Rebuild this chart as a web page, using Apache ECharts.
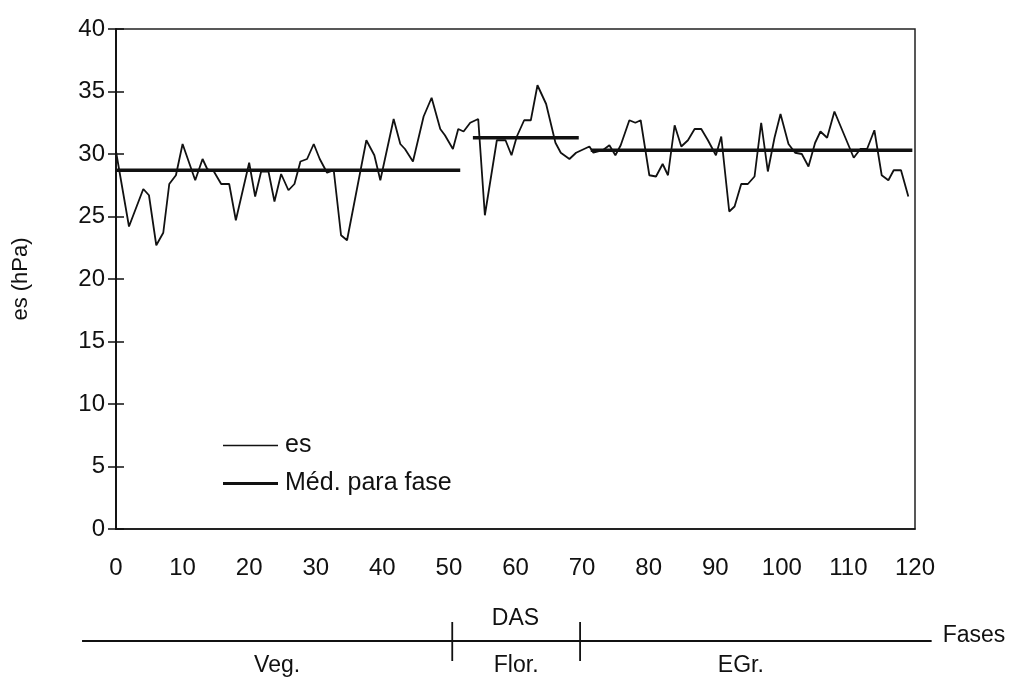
<!DOCTYPE html>
<html>
<head>
<meta charset="utf-8">
<script src="https://cdn.jsdelivr.net/npm/echarts@6/dist/echarts.min.js"></script>
<style>
html,body{margin:0;padding:0;background:#fff;}
#chart{width:1028px;height:686px;}
</style>
</head>
<body>
<div id="chart"></div>
<script>
// ---- data ----
const days = [0,1.95,4.1,4.95,6.05,7.1,8,9,10,11.9,13,13.7,14.7,15.8,17,18,20,20.9,21.8,22.9,23.8,24.8,25.9,26.8,27.7,28.7,29.7,30.6,31.7,32.7,33.8,34.7,37.6,38.8,39.7,41.7,42.7,43.4,44.6,46.2,47.4,48.7,49.4,50.6,51.4,52.2,53.2,54.4,55.4,57.2,58.5,59.4,60.2,61.3,62.3,63.3,64.6,66,66.8,68.1,69.1,70.3,71.1,71.7,73.1,74.1,75,75.8,77.1,78,78.8,80.1,81.1,82.1,82.9,83.9,84.9,85.9,86.9,87.9,88.9,90.1,90.9,92.1,92.9,93.9,94.9,95.9,96.9,97.9,98.9,99.8,101,102,103,104,105,105.8,106.8,107.9,110.8,111.8,112.8,113.9,115,116,116.8,117.9,119];
const es = [30.2,24.2,27.2,26.7,22.7,23.7,27.6,28.3,30.8,27.9,29.6,28.8,28.6,27.6,27.6,24.7,29.3,26.6,28.6,28.6,26.2,28.4,27.1,27.6,29.4,29.6,30.8,29.6,28.5,28.7,23.5,23.1,31.1,29.9,27.9,32.8,30.8,30.4,29.4,33.0,34.5,32.0,31.5,30.4,32.0,31.8,32.5,32.8,25.1,31.1,31.1,29.9,31.4,32.7,32.7,35.5,34.0,30.9,30.1,29.6,30.1,30.4,30.6,30.1,30.3,30.7,29.9,30.7,32.7,32.5,32.7,28.3,28.2,29.2,28.3,32.3,30.6,31.1,32.0,32.0,31.1,29.9,31.4,25.4,25.8,27.6,27.6,28.2,32.5,28.6,31.3,33.2,30.8,30.1,30.0,29.0,30.9,31.8,31.3,33.4,29.7,30.4,30.4,31.9,28.3,27.9,28.7,28.7,26.6];
const phaseNames = ['Veg.','Flor.','EGr.'];
const meanStart = [0, 53.6, 71.3];
const meanEnd = [51.7, 69.5, 119.6];
const meanVal = [28.7, 31.3, 30.3];
const phaseBounds = [50.5, 69.7];
const phaseLineStart = -5.1, phaseLineEnd = 122.5;
const xMin = 0, xMax = 120, xStep = 10;
const yMin = 0, yMax = 40, yStep = 5;
const seriesNames = ['es', 'Méd. para fase'];
const xName = 'DAS', yName = 'es (hPa)', phaseAxisName = 'Fases';

// ---- build ----
const esData = days.map((d, i) => [d, es[i]]);
const meanData = [];
meanStart.forEach((s, i) => {
  if (i > 0) meanData.push(['-', '-']);
  meanData.push([s, meanVal[i]], [meanEnd[i], meanVal[i]]);
});

const FONT = '"Liberation Sans", Arial, Helvetica, sans-serif';
const chart = echarts.init(document.getElementById('chart'), null, {renderer: 'canvas'});
const yAxisBase = {
  type: 'value', min: yMin, max: yMax, interval: yStep,
  splitLine: {show: false},
  axisLine: {show: true, onZero: false, lineStyle: {color: '#111', width: 1.5}},
};
const legendBase = {
  orient: 'vertical', left: 223, itemWidth: 55, padding: 0, icon: 'rect',
  textStyle: {fontSize: 25, color: '#111', fontFamily: FONT, padding: [0, 0, 0, 2]}
};
chart.setOption({
  backgroundColor: '#fff',
  animation: false,
  textStyle: {fontFamily: FONT, color: '#111'},
  grid: {left: 116, right: 113, top: 29, bottom: 157, show: true, borderColor: '#222', borderWidth: 1.5, backgroundColor: 'transparent'},
  legend: [
    Object.assign({}, legendBase, {top: 433, itemHeight: 1.6, data: [seriesNames[0]]}),
    Object.assign({}, legendBase, {top: 471, itemHeight: 3.2, data: [seriesNames[1]]})
  ],
  xAxis: {
    type: 'value', min: xMin, max: xMax, interval: xStep,
    name: xName, nameLocation: 'middle', nameGap: 78,
    nameTextStyle: {fontSize: 23, color: '#111', fontFamily: FONT},
    splitLine: {show: false},
    axisLine: {show: true, onZero: false, lineStyle: {color: '#111', width: 1.5}},
    axisTick: {show: false},
    axisLabel: {fontSize: 24, color: '#111', margin: 27, fontFamily: FONT}
  },
  yAxis: [
    Object.assign({}, yAxisBase, {
      name: yName, nameLocation: 'middle', nameGap: 84, nameRotate: 90,
      nameTextStyle: {fontSize: 22, color: '#111', fontFamily: FONT},
      axisTick: {show: true, inside: false, length: 8, lineStyle: {color: '#111', width: 1.5}},
      axisLabel: {fontSize: 24, color: '#111', margin: 11, fontFamily: FONT}
    }),
    Object.assign({}, yAxisBase, {
      position: 'left',
      axisTick: {show: true, inside: true, length: 8, lineStyle: {color: '#111', width: 1.5}},
      axisLabel: {show: false}
    })
  ],
  series: [
    {name: seriesNames[0], type: 'line', data: esData, showSymbol: false, symbol: 'none',
     lineStyle: {color: '#111', width: 1.8}, itemStyle: {color: '#111'}},
    {name: seriesNames[1], type: 'line', data: meanData, showSymbol: false, symbol: 'none', connectNulls: false,
     lineStyle: {color: '#111', width: 3.4}, itemStyle: {color: '#111'}}
  ]
});

// ---- phase strip under the chart, positioned through the x axis scale ----
const px = d => chart.convertToPixel({xAxisIndex: 0}, d);
const lineY = 641;
const edges = [phaseLineStart, ...phaseBounds, phaseLineEnd];
const g = [];
g.push({type: 'line', shape: {x1: px(phaseLineStart), y1: lineY, x2: px(phaseLineEnd), y2: lineY}, style: {stroke: '#111', lineWidth: 1.8}});
phaseBounds.forEach(b => {
  g.push({type: 'line', shape: {x1: px(b), y1: lineY - 19, x2: px(b), y2: lineY + 20}, style: {stroke: '#111', lineWidth: 1.8}});
});
const labelOffsets = [10, 0, -15];
phaseNames.forEach((n, i) => {
  const cx = (px(edges[i]) + px(edges[i + 1])) / 2 + labelOffsets[i];
  g.push({type: 'text', x: cx, y: lineY + 25, style: {text: n, fill: '#111', font: '23px ' + FONT, textAlign: 'center', textVerticalAlign: 'middle'}});
});
g.push({type: 'text', x: px(phaseLineEnd) + 11, y: lineY - 5, style: {text: phaseAxisName, fill: '#111', font: '23px ' + FONT, textAlign: 'left', textVerticalAlign: 'middle'}});
chart.setOption({graphic: g});
</script>
</body>
</html>
